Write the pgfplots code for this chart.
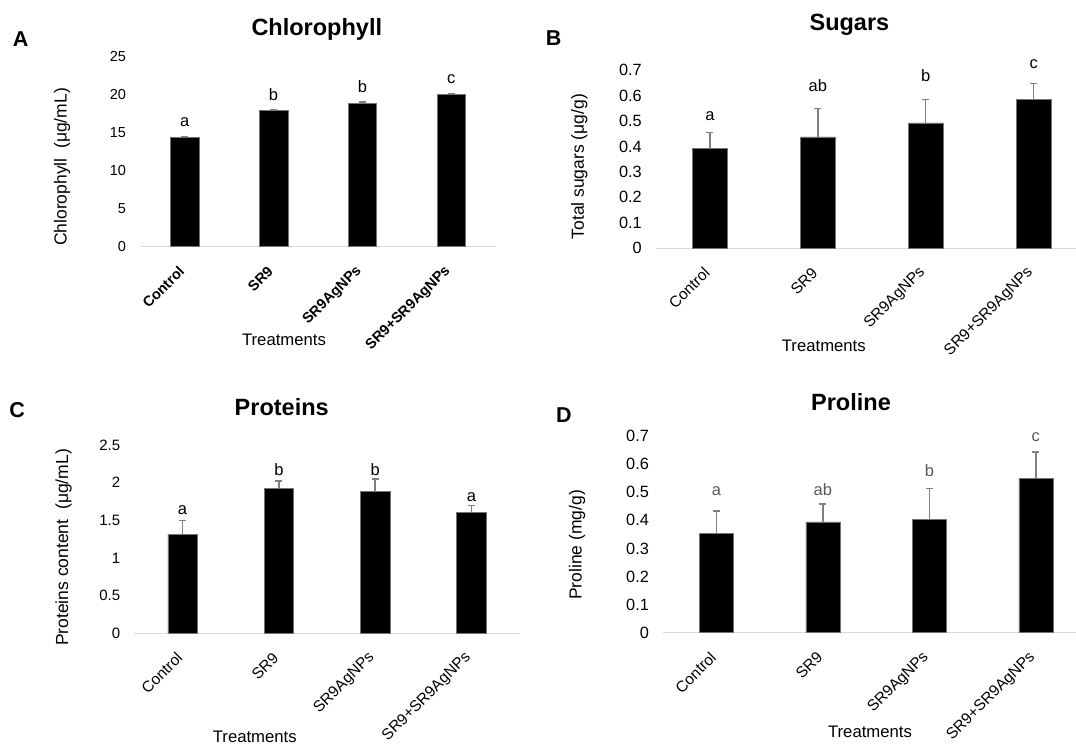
\documentclass[border=0pt]{standalone}
\usepackage{pgfplots}
\pgfplotsset{compat=1.18}
\usepackage{fontspec}
\setmainfont{Liberation Sans}
\newcommand{\fs}[1]{\fontsize{#1}{#1}\selectfont}
\definecolor{axgray}{HTML}{D9D9D9}
\definecolor{errgray}{HTML}{808080}
\pgfplotsset{
  panel/.style={
    scale only axis, anchor=south west, clip=false,
    xmin=-0.5, xmax=3.5, ymin=0,
    axis x line*=bottom, axis y line*=left,
    y axis line style={draw=none},
    x axis line style={draw=axgray, line width=1.4pt, -},
    major tick length=0pt,
    xtick={0,1,2,3},
    xticklabels={Control,SR9,SR9AgNPs,SR9+SR9AgNPs},
    xticklabel style={xshift=-3pt, yshift=-22pt, rotate=45, anchor=east, inner sep=0pt, font=\fs{15.5}},
    yticklabel style={inner sep=0pt, xshift=-14pt, font=\fs{15}},
    /pgf/number format/assume math mode=true,
    ybar, bar shift=0pt,
  },
  bars/.style={fill=black, draw=black!55, line width=0.6pt,
    error bars/.cd, y dir=plus, y explicit,
    error bar style={errgray, line width=1.4pt},
    error mark options={rotate=90, mark size=3.5pt, errgray, line width=1.4pt}},
}
\begin{document}
\begin{tikzpicture}[x=1pt,y=1pt]
\useasboundingbox (0,0) rectangle (1076,744);
% Panel A
\begin{axis}[panel, at={(140.2pt,497.3pt)}, width=355.6pt, height=190pt, ymax=25,
  ytick={0,5,10,15,20,25}, bar width=28.5pt,
  yticklabel style={font=\fs{14.5}},
  xticklabel style={font=\fs{14.5}\bfseries}]
\addplot+[bars] coordinates {(0,14.4) +- (0,0.1) (1,17.9) +- (0,0.1) (2,18.9) +- (0,0.12) (3,20.05) +- (0,0.12)};
\node[font=\fs{16.5}] at (axis cs:0,16.4) {a};
\node[font=\fs{16.5}] at (axis cs:1,20.0) {b};
\node[font=\fs{16.5}] at (axis cs:2,21.05) {b};
\node[font=\fs{16.5}] at (axis cs:3,22.1) {c};
\end{axis}
% Panel B
\begin{axis}[panel, at={(656pt,495.7pt)}, width=431.6pt, height=178.3pt, ymax=0.7,
  ytick={0,0.1,0.2,0.3,0.4,0.5,0.6,0.7}, bar width=34.5pt,
  yticklabel style={font=\fs{16.3}, /pgf/number format/.cd, fixed, precision=1}]
\addplot+[bars] coordinates {(0,0.393) +- (0,0.061) (1,0.437) +- (0,0.111) (2,0.492) +- (0,0.093) (3,0.585) +- (0,0.061)};
\node[font=\fs{16.5}] at (axis cs:0,0.517) {a};
\node[font=\fs{16.5}] at (axis cs:1,0.638) {ab};
\node[font=\fs{16.5}] at (axis cs:2,0.677) {b};
\node[font=\fs{16.5}] at (axis cs:3,0.724) {c};
\end{axis}
% Panel C
\begin{axis}[panel, at={(134.4pt,110.7pt)}, width=385.2pt, height=188.3pt, ymax=2.5,
  ytick={0,0.5,1,1.5,2,2.5}, bar width=29.5pt,
  yticklabel style={font=\fs{15}, /pgf/number format/.cd, fixed, precision=1}]
\addplot+[bars] coordinates {(0,1.31) +- (0,0.19) (1,1.925) +- (0,0.095) (2,1.88) +- (0,0.17) (3,1.61) +- (0,0.09)};
\node[font=\fs{16.5}] at (axis cs:0,1.64) {a};
\node[font=\fs{16.5}] at (axis cs:1,2.17) {b};
\node[font=\fs{16.5}] at (axis cs:2,2.17) {b};
\node[font=\fs{16.5}] at (axis cs:3,1.81) {a};
\end{axis}
% Panel D
\begin{axis}[panel, at={(663.1pt,111.3pt)}, width=426pt, height=196.7pt, ymax=0.7,
  ytick={0,0.1,0.2,0.3,0.4,0.5,0.6,0.7}, bar width=34pt,
  yticklabel style={font=\fs{16.3}, /pgf/number format/.cd, fixed, precision=1}]
\addplot+[bars] coordinates {(0,0.352) +- (0,0.081) (1,0.394) +- (0,0.064) (2,0.403) +- (0,0.111) (3,0.549) +- (0,0.094)};
\node[font=\fs{16.5}, text=black!65] at (axis cs:0,0.502) {a};
\node[font=\fs{16.5}, text=black!65] at (axis cs:1,0.511) {ab};
\node[font=\fs{16.5}, text=black!65] at (axis cs:2,0.577) {b};
\node[font=\fs{16.5}, text=black!65] at (axis cs:3,0.695) {c};
\end{axis}
% Titles, panel letters, labels
\node[font=\fs{23.5}\bfseries] at (316.8,714.7) {Chlorophyll};
\node[font=\fs{23.5}\bfseries] at (849.4,719) {Sugars};
\node[font=\fs{23.5}\bfseries] at (281.7,337.3) {Proteins};
\node[font=\fs{23.5}\bfseries] at (851,341.7) {Proline};
\node[font=\fs{21.5}\bfseries] at (20.7,704.7) {A};
\node[font=\fs{21.5}\bfseries] at (553.7,705.7) {B};
\node[font=\fs{21.5}\bfseries] at (17.2,334) {C};
\node[font=\fs{21.5}\bfseries] at (564,329) {D};
\node[font=\fs{17.5}, rotate=90] at (62,577) {Chlorophyll\ \ (μg/mL)};
\node[font=\fs{17.5}, rotate=90] at (579.3,577.3) {Total sugars (μg/g)};
\node[font=\fs{17.5}, rotate=90] at (63.7,196.5) {Proteins content\ \ (μg/mL)};
\node[font=\fs{17.5}, rotate=90] at (577,199) {Proline (mg/g)};
\node[font=\fs{16.7}] at (284,404) {Treatments};
\node[font=\fs{16.7}] at (823.8,398.3) {Treatments};
\node[font=\fs{16.7}] at (254.8,7.3) {Treatments};
\node[font=\fs{16.7}] at (870,12.3) {Treatments};
\end{tikzpicture}
\end{document}
